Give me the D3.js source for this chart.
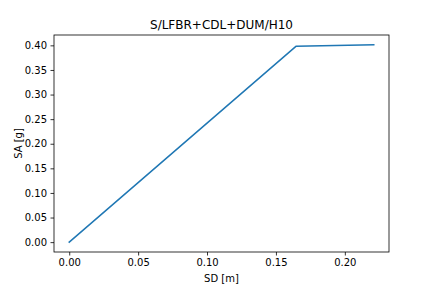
<!DOCTYPE html>
<html>
<head>
<meta charset="utf-8">
<script src="https://cdn.jsdelivr.net/npm/d3@7"></script>
<style>
  body { margin: 0; background: #fff; }
  text { font-family: "DejaVu Sans", sans-serif; fill: #000; }
</style>
</head>
<body>
<div id="graphicContainer"></div>
<script>
// pushover curve values
var sd = [0, 0.1645, 0.221];
var sa = [0, 0.398, 0.401];
var xTicks = [0, 0.05, 0.10, 0.15, 0.20];
var yTicks = [0, 0.05, 0.10, 0.15, 0.20, 0.25, 0.30, 0.35, 0.40];

var width = 432, height = 288;
var margin = {top: 35, right: 43, bottom: 36, left: 54};

var svg = d3.select("#graphicContainer").append("svg")
  .attr("width", width)
  .attr("height", height);

// matplotlib style 5% padding on the data range
var xmax = d3.max(sd), ymax = d3.max(sa);
var x = d3.scaleLinear()
  .domain([-0.05 * xmax, 1.05 * xmax])
  .range([margin.left, width - margin.right]);
var y = d3.scaleLinear()
  .domain([-0.05 * ymax, 1.05 * ymax])
  .range([height - margin.bottom, margin.top]);

var xAxis = g => g
  .attr("transform", `translate(0,${height - margin.bottom})`)
  .call(d3.axisBottom(x).tickValues(xTicks).tickFormat(d3.format(".2f")).tickSize(3.5).tickPadding(3.5))
  .call(g => g.select(".domain").remove());

var yAxis = g => g
  .attr("transform", `translate(${margin.left},0)`)
  .call(d3.axisLeft(y).tickValues(yTicks).tickFormat(d3.format(".2f")).tickSize(3.5).tickPadding(3.5))
  .call(g => g.select(".domain").remove());

svg.append("g").call(xAxis);
svg.append("g").call(yAxis);

svg.selectAll(".tick line").attr("stroke", "#000").attr("stroke-width", 0.8);
svg.selectAll(".tick text").attr("font-size", 10).attr("font-family", "DejaVu Sans");

// the curve
var pts = sd.map((d, i) => [d, sa[i]]);
svg.append("path")
  .datum(pts)
  .attr("fill", "none")
  .attr("stroke", "#1f77b4")
  .attr("stroke-width", 1.5)
  .attr("stroke-linejoin", "round")
  .attr("stroke-linecap", "square")
  .attr("d", d3.line().x(d => x(d[0])).y(d => y(d[1])));

// frame
svg.append("rect")
  .attr("x", margin.left)
  .attr("y", margin.top)
  .attr("width", width - margin.left - margin.right)
  .attr("height", height - margin.top - margin.bottom)
  .attr("fill", "none")
  .attr("stroke", "#000")
  .attr("stroke-width", 0.8);

// title and labels
svg.append("text")
  .attr("x", (margin.left + width - margin.right) / 2)
  .attr("y", margin.top - 6.5)
  .attr("text-anchor", "middle")
  .attr("font-size", 12)
  .text("S/LFBR+CDL+DUM/H10");

svg.append("text")
  .attr("x", (margin.left + width - margin.right) / 2)
  .attr("y", 281.5)
  .attr("text-anchor", "middle")
  .attr("font-size", 10)
  .text("SD [m]");

svg.append("text")
  .attr("transform", `translate(21.5,${(margin.top + height - margin.bottom) / 2}) rotate(-90)`)
  .attr("text-anchor", "middle")
  .attr("font-size", 10)
  .text("SA [g]");
</script>
</body>
</html>
